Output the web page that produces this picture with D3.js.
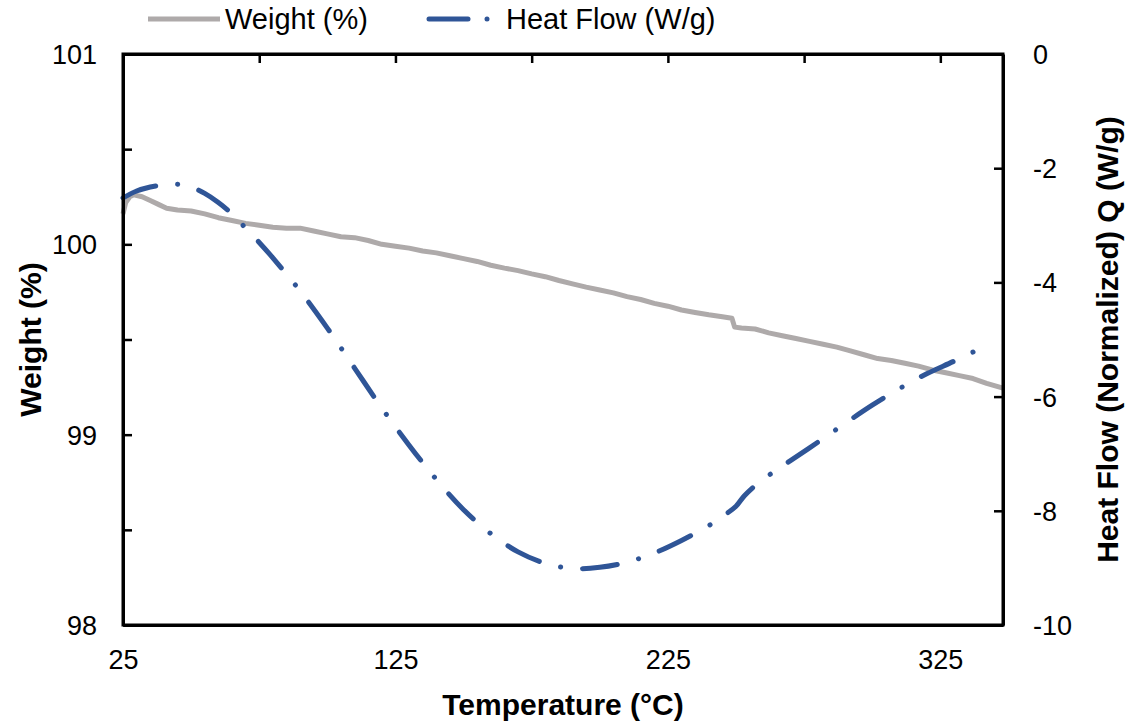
<!DOCTYPE html>
<html>
<head>
<meta charset="utf-8">
<script src="https://cdn.jsdelivr.net/npm/d3@7"></script>
<style>
  body { margin: 0; background: #fff; }
  svg text { font-family: Arial, "Liberation Sans", sans-serif; fill: #000; }
</style>
</head>
<body>
<svg id="chart" width="1126" height="723"></svg>
<script>
// temperature (°C) / weight (%) readings
var weightTemp = [25, 26, 27.5, 29, 32, 35, 38, 41, 45, 50, 55, 60, 65, 70, 75, 80, 85, 90, 95, 100,
  105, 110, 115, 120, 125, 130, 135, 140, 145, 150, 155, 160, 165, 170, 175, 180, 185, 190, 195, 200,
  205, 210, 215, 220, 225, 230, 235, 240, 245, 248.5, 249.5, 252, 257, 262, 267, 272, 277, 282, 287,
  292, 297, 302, 307, 312, 317, 322, 327, 332, 337, 342, 348];
var weightVals = [100.16, 100.22, 100.25, 100.26, 100.25, 100.23, 100.21, 100.19, 100.18, 100.175,
  100.16, 100.14, 100.125, 100.11, 100.1, 100.09, 100.085, 100.085, 100.07, 100.055,
  100.04, 100.035, 100.02, 100.0, 99.99, 99.98, 99.965, 99.955, 99.94, 99.925,
  99.91, 99.89, 99.875, 99.862, 99.845, 99.83, 99.81, 99.792, 99.775, 99.76,
  99.745, 99.725, 99.71, 99.69, 99.675, 99.655, 99.642, 99.63, 99.62, 99.612, 99.565,
  99.56, 99.555, 99.535, 99.52, 99.505, 99.49, 99.475, 99.46, 99.44,
  99.42, 99.4, 99.39, 99.375, 99.36, 99.34, 99.325, 99.31, 99.295, 99.27, 99.245];

// temperature (°C) / heat flow (W/g) readings
var heatTemp = [25, 30, 35, 40, 45, 50, 55, 60, 65, 70, 75, 80, 90, 100, 110, 120, 130, 140, 150, 160,
  170, 180, 190, 200, 210, 220, 230, 240, 245, 250, 253, 258, 265, 270, 280, 290, 300, 310, 320, 330, 340, 344];
var heatVals = [-2.52, -2.4, -2.33, -2.29, -2.28, -2.33, -2.44, -2.6, -2.8, -3.05, -3.3, -3.57, -4.15, -4.8,
  -5.5, -6.2, -6.85, -7.45, -7.98, -8.4, -8.72, -8.92, -9.01, -8.99, -8.9, -8.74, -8.52, -8.26, -8.1, -7.92,
  -7.74, -7.52, -7.28, -7.12, -6.8, -6.47, -6.15, -5.86, -5.6, -5.38, -5.15, -5.06];

var xTicks = [25, 125, 225, 325];
var xMinorTicks = [75, 125, 175, 225, 275, 325];
var weightTicks = [98, 98.5, 99, 99.5, 100, 100.5, 101];
var weightLabels = [98, 99, 100, 101];
var heatTicks = [-10, -8, -6, -4, -2, 0];

var svg = d3.select('#chart');
var plotL = 123, plotR = 1003, plotT = 54, plotB = 625;

var x = d3.scaleLinear().domain([25, 348]).range([plotL, plotR]);
var yW = d3.scaleLinear().domain([98, 101]).range([plotB, plotT]);
var yH = d3.scaleLinear().domain([-10, 0]).range([plotB, plotT]);

var GRAY = '#AEAAAA', BLUE = '#2F5597';

// lines
var weightData = weightTemp.map(function (t, i) { return [t, weightVals[i]]; });
var heatData = heatTemp.map(function (t, i) { return [t, heatVals[i]]; });

svg.append('path')
    .datum(weightData)
    .attr('fill', 'none')
    .attr('stroke', GRAY)
    .attr('stroke-width', 5)
    .attr('stroke-linejoin', 'round')
    .attr('d', d3.line().x(function (d) { return x(d[0]); }).y(function (d) { return yW(d[1]); }));

svg.append('path')
    .datum(heatData)
    .attr('fill', 'none')
    .attr('stroke', BLUE)
    .attr('stroke-width', 5)
    .attr('stroke-linecap', 'round')
    .attr('stroke-dasharray', '35 22 0.1 22')
    .attr('d', d3.line().curve(d3.curveCatmullRom)
        .x(function (d) { return x(d[0]); }).y(function (d) { return yH(d[1]); }));

// axes
var fontSize = '27px';

var gLeft = svg.append('g').attr('transform', 'translate(' + plotL + ',0)')
    .call(d3.axisLeft(yW).tickValues(weightTicks).tickSizeInner(-9).tickSizeOuter(0).tickPadding(26)
        .tickFormat(function (d) { return weightLabels.indexOf(d) >= 0 ? d3.format('d')(d) : ''; }));

var gRight = svg.append('g').attr('transform', 'translate(' + plotR + ',0)')
    .call(d3.axisRight(yH).tickValues(heatTicks).tickSizeInner(-9).tickSizeOuter(0).tickPadding(30));

var gBottom = svg.append('g').attr('transform', 'translate(0,' + plotB + ')')
    .call(d3.axisBottom(x).tickValues(xTicks).tickSize(0).tickPadding(25).tickFormat(d3.format('d')));

var gTop = svg.append('g').attr('transform', 'translate(0,' + plotT + ')')
    .call(d3.axisTop(x).tickValues(xMinorTicks).tickSizeInner(-9).tickSizeOuter(0).tickFormat(''));

[gLeft, gRight, gBottom, gTop].forEach(function (g) {
  g.attr('font-family', null).attr('font-size', null);
  g.selectAll('text').style('font-size', fontSize).attr('fill', '#000');
  g.selectAll('line').attr('stroke', '#000').attr('stroke-width', 2.5);
  g.select('.domain').attr('stroke', '#000').attr('stroke-width', 3);
});
gRight.selectAll('text').text(function (d) { return String(d); });
gLeft.selectAll('text').attr('dy', '0.35em');
gRight.selectAll('text').attr('dy', '0.35em');

// plot frame
svg.append('rect')
    .attr('x', plotL).attr('y', plotT)
    .attr('width', plotR - plotL).attr('height', plotB - plotT)
    .attr('fill', 'none').attr('stroke', '#000').attr('stroke-width', 3);

// axis titles
var titleSize = '30px';
svg.append('text')
    .attr('x', (plotL + plotR) / 2).attr('y', 715)
    .attr('text-anchor', 'middle')
    .style('font-size', titleSize).style('font-weight', 'bold')
    .text('Temperature (°C)');

svg.append('text')
    .attr('transform', 'translate(41,' + (plotT + plotB) / 2 + ') rotate(-90)')
    .attr('text-anchor', 'middle')
    .style('font-size', titleSize).style('font-weight', 'bold')
    .text('Weight (%)');

svg.append('text')
    .attr('transform', 'translate(1118,' + (plotT + plotB) / 2 + ') rotate(-90)')
    .attr('text-anchor', 'middle')
    .style('font-size', titleSize).style('font-weight', 'bold')
    .text('Heat Flow (Normalized) Q (W/g)');

// legend
var legend = svg.append('g');
legend.append('line')
    .attr('x1', 148).attr('x2', 220).attr('y1', 19).attr('y2', 19)
    .attr('stroke', GRAY).attr('stroke-width', 5);
legend.append('text')
    .attr('x', 225).attr('y', 19).attr('dy', '0.35em')
    .style('font-size', '29px')
    .text('Weight (%)');
legend.append('line')
    .attr('x1', 429).attr('x2', 468).attr('y1', 19).attr('y2', 19)
    .attr('stroke', BLUE).attr('stroke-width', 5).attr('stroke-linecap', 'round');
legend.append('circle')
    .attr('cx', 487).attr('cy', 19).attr('r', 2.5)
    .attr('fill', BLUE);
legend.append('text')
    .attr('x', 506).attr('y', 19).attr('dy', '0.35em')
    .style('font-size', '29px')
    .text('Heat Flow (W/g)');
</script>
</body>
</html>
